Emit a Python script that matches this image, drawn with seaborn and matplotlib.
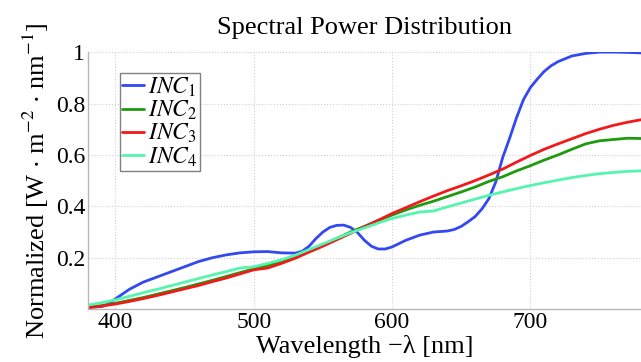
import numpy as np
import pandas as pd
import matplotlib
matplotlib.use('Agg')
import matplotlib.pyplot as plt
import seaborn as sns

# wavelengths (nm) and normalised SPD values
wl_blue = [380, 390, 395, 400, 410, 420, 430, 440, 450, 460, 470, 480, 490, 500,
           510, 520, 530, 535, 540, 545, 550, 555, 560, 565, 570, 575, 580, 585,
           590, 595, 600, 610, 620, 630, 640, 645, 650, 655, 660, 665, 670, 675,
           680, 685, 690, 695, 700, 705, 710, 715, 720, 730, 740, 750, 760, 770, 780]
inc1 = [0.008, 0.010, 0.020, 0.040, 0.077, 0.105, 0.125, 0.145, 0.165, 0.185, 0.200,
        0.211, 0.219, 0.223, 0.224, 0.219, 0.218, 0.225, 0.245, 0.275, 0.300, 0.318,
        0.326, 0.327, 0.318, 0.298, 0.268, 0.245, 0.234, 0.234, 0.242, 0.268, 0.288,
        0.300, 0.304, 0.310, 0.322, 0.340, 0.360, 0.390, 0.430, 0.495, 0.590, 0.665,
        0.745, 0.815, 0.862, 0.895, 0.925, 0.947, 0.963, 0.985, 0.995, 1.0, 1.0,
        0.999, 0.997]

wl = list(range(380, 790, 10))
inc2 = [0.007, 0.014, 0.023, 0.034, 0.045, 0.058, 0.071, 0.084, 0.098, 0.112, 0.127,
        0.142, 0.157, 0.170, 0.184, 0.204, 0.226, 0.250, 0.275, 0.300, 0.322, 0.345,
        0.366, 0.386, 0.404, 0.420, 0.438, 0.456, 0.475, 0.497, 0.515, 0.538, 0.558,
        0.580, 0.600, 0.622, 0.643, 0.655, 0.660, 0.665, 0.664]
inc3 = [0.005, 0.012, 0.020, 0.030, 0.041, 0.053, 0.066, 0.079, 0.092, 0.107, 0.121,
        0.137, 0.153, 0.160, 0.178, 0.198, 0.222, 0.245, 0.270, 0.295, 0.320, 0.346,
        0.372, 0.395, 0.418, 0.440, 0.461, 0.480, 0.500, 0.522, 0.545, 0.572, 0.598,
        0.622, 0.643, 0.663, 0.683, 0.700, 0.715, 0.727, 0.737]
inc4 = [0.016, 0.025, 0.036, 0.050, 0.064, 0.077, 0.091, 0.105, 0.119, 0.133, 0.146,
        0.160, 0.165, 0.178, 0.192, 0.210, 0.232, 0.254, 0.276, 0.297, 0.316, 0.335,
        0.353, 0.366, 0.378, 0.382, 0.398, 0.413, 0.428, 0.443, 0.456, 0.469, 0.481,
        0.492, 0.502, 0.512, 0.520, 0.527, 0.532, 0.536, 0.538]

labels = [r'$INC_1$', r'$INC_2$', r'$INC_3$', r'$INC_4$']
colors = ['#3348f0', '#1f9a0f', '#f01a1a', '#55f5b0']

sns.set_theme(style='white', rc={'text.color': 'black', 'axes.labelcolor': 'black',
                                 'xtick.color': 'black', 'ytick.color': 'black'})
plt.rcParams['font.family'] = ['Liberation Serif', 'DejaVu Serif']
plt.rcParams['mathtext.fontset'] = 'stix'

fig = plt.figure(figsize=(6.41, 3.62), dpi=100)
ax = fig.add_axes([0.137, 0.146, 0.863, 0.710])

series = [(wl_blue, inc1), (wl, inc2), (wl, inc3), (wl, inc4)]
for (x, y), lab, col in zip(series, labels, colors):
    sns.lineplot(x=x, y=y, ax=ax, color=col, linewidth=2, label=lab)

ax.set_xlim(380, 780)
ax.set_ylim(0, 1)
ax.set_xticks([400, 500, 600, 700])
ax.set_yticks([0.2, 0.4, 0.6, 0.8, 1.0])
ax.set_yticklabels(['0.2', '0.4', '0.6', '0.8', '1'])
ax.tick_params(labelsize=17, direction='in', length=3, color='#b0b0b0',
               labelcolor='black', pad=2)
ax.grid(True, linestyle=':', color='#cfcfcf', linewidth=0.8)
for s in ['top', 'right']:
    ax.spines[s].set_visible(False)
for s in ['left', 'bottom']:
    ax.spines[s].set_color('#b8b8b8')
    ax.spines[s].set_linewidth(1)

ax.set_title('Spectral Power Distribution', fontsize=19, pad=13, color='black')
ax.set_xlabel('Wavelength \u2212\u03bb [nm]', fontsize=19)
ax.xaxis.set_label_coords(0.5, -0.10)
ax.xaxis.label.set_verticalalignment('top')
ax.set_ylabel(r'Normalized [W $\cdot$ m$^{-2}$ $\cdot$ nm$^{-1}$]', fontsize=19, labelpad=3)

leg = ax.legend(loc='upper left', bbox_to_anchor=(0.058, 0.918), borderaxespad=0,
                fontsize=17, handlelength=0.9, handletextpad=0.2, labelspacing=0.0,
                borderpad=0.1, fancybox=False, framealpha=1, edgecolor='#808080')
leg.get_frame().set_linewidth(1)
for t in leg.get_texts():
    t.set_color('black')

fig.savefig('out.png', dpi=100)
